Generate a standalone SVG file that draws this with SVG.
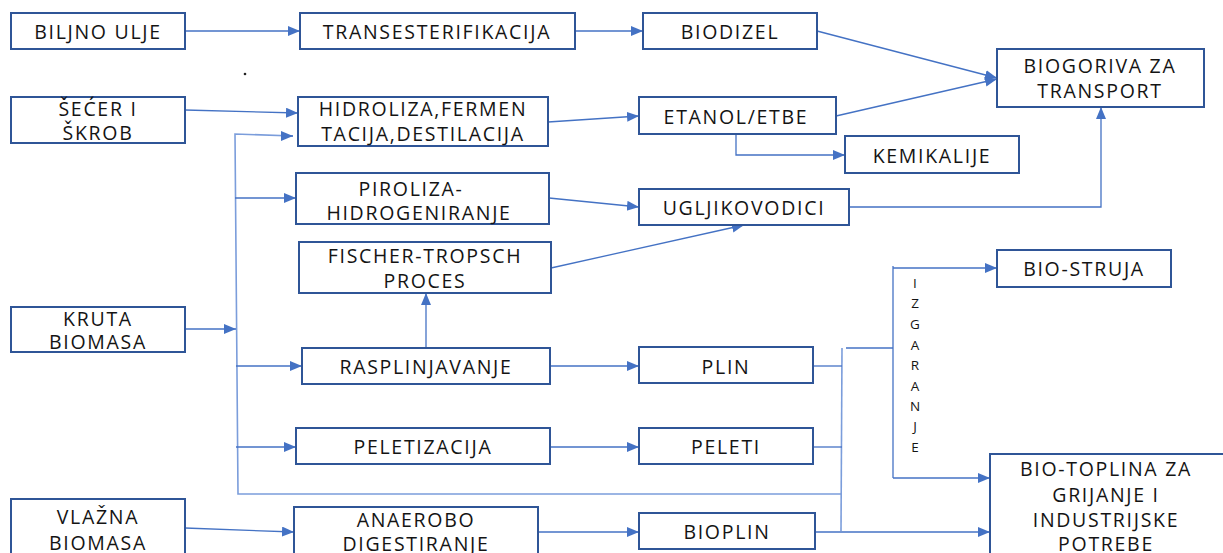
<svg xmlns="http://www.w3.org/2000/svg" width="1223" height="553" viewBox="0 0 1223 553">
<style>
.box{fill:#fff;stroke:#2f5597;stroke-width:2}
.t{font-family:"Open Sans","Liberation Sans",sans-serif;font-size:19.5px;fill:#141414;text-anchor:middle;dominant-baseline:central;letter-spacing:1.7px}
.v{font-family:"Open Sans","Liberation Sans",sans-serif;font-size:13.5px;fill:#141414;text-anchor:middle;dominant-baseline:central}
.c{fill:none;stroke:#4472c4;stroke-width:1.3}
.cl{fill:none;stroke:#7b9ddb;stroke-width:1.6}
</style>
<defs>
<marker id="a" markerUnits="userSpaceOnUse" markerWidth="13" markerHeight="11" refX="12" refY="5" orient="auto">
<path d="M0,0 L12,5 L0,10 z" fill="#4472c4"/>
</marker>
</defs>
<rect width="1223" height="553" fill="#fff"/>
<g id="connectors">
<line class="c" x1="185" y1="31" x2="300" y2="31" marker-end="url(#a)"/>
<line class="c" x1="575" y1="31" x2="643" y2="31" marker-end="url(#a)"/>
<line class="c" x1="817" y1="31" x2="997" y2="78" marker-end="url(#a)"/>
<line class="c" x1="836" y1="116" x2="997" y2="79" marker-end="url(#a)"/>
<line class="c" x1="185" y1="110" x2="298" y2="113" marker-end="url(#a)"/>
<line class="c" x1="548" y1="122" x2="639" y2="116" marker-end="url(#a)"/>
<polyline class="c" points="736,134 736,155 845,155" marker-end="url(#a)"/>
<polyline class="cl" points="293,136 235,134 238,494 842,494"/>
<line class="c" x1="286" y1="136" x2="293" y2="136" marker-end="url(#a)"/>
<line class="c" x1="235" y1="198" x2="296" y2="198" marker-end="url(#a)"/>
<line class="c" x1="185" y1="329" x2="236" y2="329" marker-end="url(#a)"/>
<line class="c" x1="236" y1="366" x2="302" y2="366" marker-end="url(#a)"/>
<line class="c" x1="236" y1="447" x2="296" y2="447" marker-end="url(#a)"/>
<line class="c" x1="549" y1="198" x2="639" y2="207" marker-end="url(#a)"/>
<line class="c" x1="551" y1="268" x2="744" y2="225" marker-end="url(#a)"/>
<polyline class="c" points="849,207 1101,207 1101,107" marker-end="url(#a)"/>
<line class="c" x1="426" y1="348" x2="426" y2="293" marker-end="url(#a)"/>
<line class="c" x1="550" y1="366" x2="639" y2="366" marker-end="url(#a)"/>
<line class="c" x1="550" y1="447" x2="639" y2="447" marker-end="url(#a)"/>
<line class="c" x1="185" y1="528" x2="294" y2="532" marker-end="url(#a)"/>
<line class="c" x1="538" y1="532" x2="639" y2="532" marker-end="url(#a)"/>
<line class="cl" x1="842" y1="348" x2="841" y2="531"/>
<line class="c" x1="813" y1="366" x2="842" y2="366"/>
<line class="c" x1="813" y1="447" x2="842" y2="447"/>
<line class="c" x1="815" y1="532" x2="990" y2="532" marker-end="url(#a)"/>
<line class="c" x1="846" y1="348" x2="893" y2="348"/>
<line class="c" x1="893" y1="266" x2="893" y2="478"/>
<line class="c" x1="893" y1="268" x2="997" y2="268" marker-end="url(#a)"/>
<line class="c" x1="893" y1="478" x2="990" y2="478" marker-end="url(#a)"/>
</g>
<circle cx="245" cy="74" r="1.3" fill="#222"/>
<g id="biljno-ulje"><rect class="box" x="11" y="13" width="174" height="36"/><text class="t" x="98" y="31">BILJNO ULJE</text></g>
<g id="transesterifikacija"><rect class="box" x="300" y="13" width="275" height="36"/><text class="t" x="437" y="31">TRANSESTERIFIKACIJA</text></g>
<g id="biodizel"><rect class="box" x="643" y="13" width="174" height="36"/><text class="t" x="730" y="31">BIODIZEL</text></g>
<g id="biogoriva"><rect class="box" x="997" y="49" width="207" height="58"/><text class="t" x="1100" y="65">BIOGORIVA ZA</text><text class="t" x="1100" y="90">TRANSPORT</text></g>
<g id="secer"><rect class="box" x="11" y="97" width="174" height="46"/><text class="t" x="98" y="108">ŠEĆER I</text><text class="t" x="98" y="132">ŠKROB</text></g>
<g id="hidroliza"><rect class="box" x="298" y="97" width="250" height="49"/><text class="t" x="423" y="108">HIDROLIZA,FERMEN</text><text class="t" x="423" y="133">TACIJA,DESTILACIJA</text></g>
<g id="etanol"><rect class="box" x="639" y="97" width="197" height="37"/><text class="t" x="736" y="116">ETANOL/ETBE</text></g>
<g id="kemikalije"><rect class="box" x="845" y="136" width="174" height="37"/><text class="t" x="932" y="155">KEMIKALIJE</text></g>
<g id="piroliza"><rect class="box" x="296" y="173" width="253" height="51"/><text class="t" x="411" y="188">PIROLIZA-</text><text class="t" x="419" y="212">HIDROGENIRANJE</text></g>
<g id="ugljikovodici"><rect class="box" x="639" y="189" width="210" height="36"/><text class="t" x="744" y="207">UGLJIKOVODICI</text></g>
<g id="fischer"><rect class="box" x="299" y="242" width="252" height="51"/><text class="t" x="425" y="255">FISCHER-TROPSCH</text><text class="t" x="425" y="280">PROCES</text></g>
<g id="kruta"><rect class="box" x="11" y="307" width="174" height="45"/><text class="t" x="98" y="318">KRUTA</text><text class="t" x="98" y="341">BIOMASA</text></g>
<g id="rasplinjavanje"><rect class="box" x="302" y="348" width="248" height="36"/><text class="t" x="426" y="366">RASPLINJAVANJE</text></g>
<g id="plin"><rect class="box" x="639" y="347" width="174" height="36"/><text class="t" x="726" y="366">PLIN</text></g>
<g id="peletizacija"><rect class="box" x="296" y="428" width="254" height="36"/><text class="t" x="423" y="446">PELETIZACIJA</text></g>
<g id="peleti"><rect class="box" x="639" y="428" width="174" height="36"/><text class="t" x="726" y="446">PELETI</text></g>
<g id="bio-struja"><rect class="box" x="997" y="250" width="174" height="37"/><text class="t" x="1084" y="268">BIO-STRUJA</text></g>
<g id="bio-toplina"><rect class="box" x="990" y="454" width="240" height="110"/><text class="t" x="1106" y="468">BIO-TOPLINA ZA</text><text class="t" x="1106" y="494">GRIJANJE I</text><text class="t" x="1106" y="519">INDUSTRIJSKE</text><text class="t" x="1106" y="543">POTREBE</text></g>
<g id="vlazna"><rect class="box" x="11" y="499" width="174" height="60"/><text class="t" x="98" y="516">VLAŽNA</text><text class="t" x="98" y="542">BIOMASA</text></g>
<g id="anaerobo"><rect class="box" x="294" y="507" width="244" height="52"/><text class="t" x="416" y="519">ANAEROBO</text><text class="t" x="416" y="543">DIGESTIRANJE</text></g>
<g id="bioplin"><rect class="box" x="639" y="513" width="176" height="36"/><text class="t" x="727" y="531">BIOPLIN</text></g>
<g id="izgaranje-label">
<text class="v" x="915" y="283">I</text><text class="v" x="915" y="303">Z</text><text class="v" x="915" y="324">G</text><text class="v" x="915" y="345">A</text><text class="v" x="915" y="365">R</text><text class="v" x="915" y="386">A</text><text class="v" x="915" y="406">N</text><text class="v" x="915" y="426">J</text><text class="v" x="915" y="447">E</text>
</g>
</svg>
